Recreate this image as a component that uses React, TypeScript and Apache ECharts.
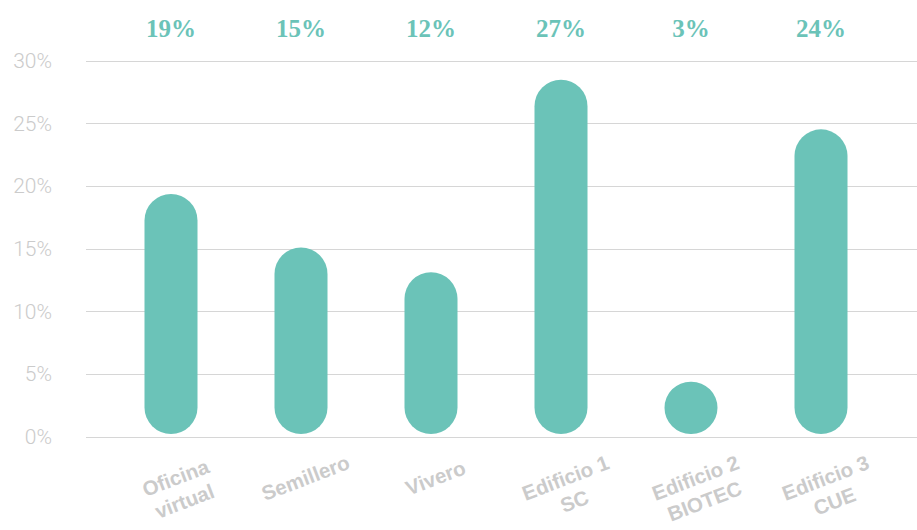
import React, { useEffect, useRef } from "react";
import * as echarts from "echarts";

const categories = ["Oficina\nvirtual", "Semillero", "Vivero", "Edificio 1\nSC", "Edificio 2\nBIOTEC", "Edificio 3\nCUE"];
// Shares shown above each column
const shareLabels = ["19%", "15%", "12%", "27%", "3%", "24%"];
// Column heights as drawn (percent)
const barValues = [19.3, 15.0, 13.0, 28.5, 4.2, 24.5];
const yTicks = { min: 0, max: 30, interval: 5 };

const TEAL = "#6bc3b8";
const GREY = "#cbcbcb";

export default function App() {
  const ref = useRef<HTMLDivElement>(null);
  useEffect(() => {
    if (!ref.current) return;
    const chart = echarts.init(ref.current, null, { renderer: "svg" });
    chart.setOption({
      animation: false,
      grid: [
        { left: 86, right: 0, top: 61, bottom: 93 },
        { left: 106, right: 31, top: 61, bottom: 93 },
      ],
      xAxis: [
        { gridIndex: 0, type: "category", data: categories, show: false },
        {
          gridIndex: 1,
          type: "category",
          data: categories,
          axisLine: { show: false },
          axisTick: { show: false },
          axisLabel: {
            interval: 0,
            rotate: 21,
            align: "center",
            verticalAlign: "top",
            margin: 32,
            color: GREY,
            fontSize: 20.5,
            fontWeight: "bold",
            lineHeight: 25,
            fontFamily: "'Helvetica Neue', Arial, 'Liberation Sans', sans-serif",
          },
        },
        {
          gridIndex: 1,
          type: "category",
          position: "top",
          data: shareLabels,
          axisLine: { show: false },
          axisTick: { show: false },
          axisLabel: {
            interval: 0,
            margin: 20,
            color: TEAL,
            fontSize: 25,
            fontWeight: "bold",
            fontFamily: "'Palatino Linotype', 'Book Antiqua', 'Liberation Serif', serif",
          },
        },
      ],
      yAxis: [
        {
          gridIndex: 0,
          type: "value",
          min: yTicks.min,
          max: yTicks.max,
          interval: yTicks.interval,
          axisLine: { show: false },
          axisTick: { show: false },
          axisLabel: {
            formatter: "{value}%",
            margin: 34,
            color: GREY,
            fontSize: 21,
            fontWeight: 300,
            fontFamily: "'Helvetica Neue', Roboto, Arial, sans-serif",
          },
          splitLine: { lineStyle: { color: "#d6d6d6", width: 1 } },
        },
        {
          gridIndex: 1,
          type: "value",
          min: yTicks.min,
          max: yTicks.max,
          interval: yTicks.interval,
          show: false,
          splitLine: { show: false },
        },
      ],
      series: [
        {
          type: "bar",
          xAxisIndex: 1,
          yAxisIndex: 1,
          data: barValues,
          barWidth: 53,
          itemStyle: { color: TEAL, borderRadius: 26.5 },
        },
      ],
    });
    return () => chart.dispose();
  }, []);
  return <div ref={ref} style={{ width: 917, height: 530, position: "absolute", left: 0, top: 0 }} />;
}
